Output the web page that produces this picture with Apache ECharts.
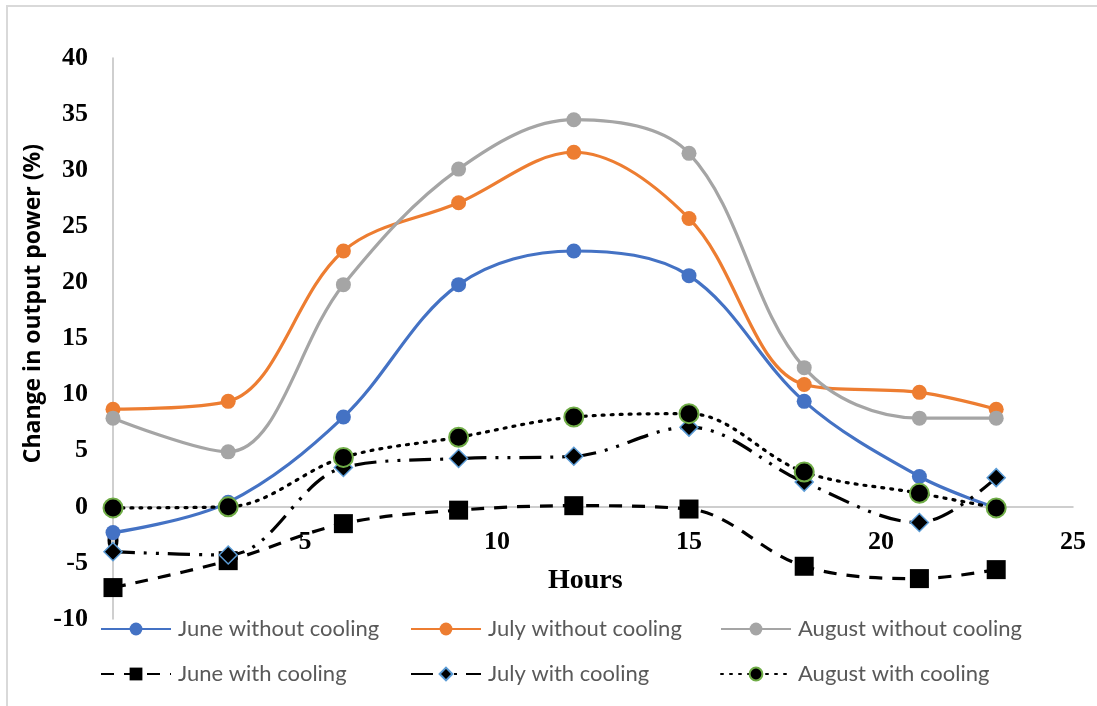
<!DOCTYPE html>
<html><head><meta charset="utf-8">
<script src="https://cdn.jsdelivr.net/npm/echarts@6/dist/echarts.min.js"></script>
<style>
html,body{margin:0;padding:0;background:#fff;}
#frame{position:absolute;left:6px;top:5px;width:1091px;height:701px;border-left:2px solid #d9d9d9;border-top:2px solid #d9d9d9;box-sizing:border-box;}
#main{position:absolute;left:0;top:0;width:1097px;height:706px;}
</style></head>
<body>
<div id="frame"></div>
<div id="main"></div>
<script>
const hours = [0, 3, 6, 9, 12, 15, 18, 21, 23];
const juneWithout = [-2.3, 0.4, 8.0, 19.8, 22.8, 20.6, 9.4, 2.7, -0.1];
const julyWithout = [8.7, 9.4, 22.8, 27.1, 31.6, 25.7, 10.9, 10.2, 8.7];
const augWithout = [7.9, 4.9, 19.8, 30.1, 34.5, 31.5, 12.4, 7.9, 7.9];
const juneWith = [-7.2, -4.8, -1.5, -0.3, 0.1, -0.2, -5.3, -6.4, -5.6];
const julyWith = [-4.0, -4.3, 3.5, 4.3, 4.5, 7.1, 2.2, -1.4, 2.6];
const augWith = [-0.1, 0.0, 4.4, 6.2, 8.0, 8.3, 3.1, 1.2, -0.1];
const names = ['June without cooling','July without cooling','August without cooling','June with cooling','July with cooling','August with cooling'];
const yTicks = [-10, 40, 5];
const xTicks = [0, 25, 5];

function pairs(ys){ return hours.map((h,i)=>[h, ys[i]]); }

const chart = echarts.init(document.getElementById('main'));
const serif = '"Liberation Serif", "Times New Roman", serif';
const legendFont = 'Lato, "Open Sans", sans-serif';

function leg(name, left, top){
  return {show:true, data:[name], left:left, top:top, padding:0, itemWidth:70, itemHeight:16, itemGap:0,
    textStyle:{fontFamily:legendFont, fontSize:22, color:'#595959', padding:[0,0,0,2]}};
}

chart.setOption({
  animation:false,
  backgroundColor:'transparent',
  grid:{left:113, right:24, top:58, bottom:87},
  xAxis:{type:'value', min:xTicks[0], max:xTicks[1], interval:xTicks[2], offset:-112,
    axisLine:{onZero:false, lineStyle:{color:'#bfbfbf', width:1.5}},
    axisTick:{show:false}, splitLine:{show:false},
    axisLabel:{fontFamily:serif, fontWeight:'bold', fontSize:26, color:'#000', margin:22}
  },
  yAxis:{type:'value', min:yTicks[0], max:yTicks[1], interval:yTicks[2],
    axisLine:{show:true, lineStyle:{color:'#bfbfbf', width:1.5}},
    axisTick:{show:false}, splitLine:{show:false},
    axisLabel:{fontFamily:serif, fontWeight:'bold', fontSize:26, color:'#000', margin:25}
  },
  legend:[
    leg(names[0], 100, 618), leg(names[1], 410, 618), leg(names[2], 720, 618),
    leg(names[3], 100, 663), leg(names[4], 410, 663), leg(names[5], 720, 663)
  ],
  graphic:[
    {type:'text', left:22, top:144, rotation:Math.PI/2,
      style:{text:'Change in output power (%)', font:'bold 23px "Open Sans", Lato, sans-serif', fill:'#000'}},
    {type:'text', left:548, top:567,
      style:{text:'Hours', font:'bold 28px "Liberation Serif", serif', fill:'#000'}}
  ],
  series:[
    {name:names[0], type:'line', smooth:0.35, data:pairs(juneWithout), symbol:'circle', symbolSize:15,
      lineStyle:{color:'#4472c4', width:3.2}, itemStyle:{color:'#4472c4'}},
    {name:names[1], type:'line', smooth:0.35, data:pairs(julyWithout), symbol:'circle', symbolSize:15,
      lineStyle:{color:'#ed7d31', width:3.2}, itemStyle:{color:'#ed7d31'}},
    {name:names[2], type:'line', smooth:0.35, data:pairs(augWithout), symbol:'circle', symbolSize:15,
      lineStyle:{color:'#a5a5a5', width:3.2}, itemStyle:{color:'#a5a5a5'}},
    {name:names[3], type:'line', smooth:0.35, data:pairs(juneWith), symbol:'rect', symbolSize:19,
      lineStyle:{color:'#000', width:3.2, type:[13,10]}, itemStyle:{color:'#000'}},
    {name:names[4], type:'line', smooth:0.35, data:pairs(julyWith), symbol:'diamond', symbolSize:18,
      lineStyle:{color:'#000', width:3.2, type:[22,9,3,9,3,9]}, itemStyle:{color:'#000', borderColor:'#5b9bd5', borderWidth:1.5}},
    {name:names[5], type:'line', smooth:0.35, data:pairs(augWith), symbol:'circle', symbolSize:19,
      lineStyle:{color:'#000', width:3.2, type:[2,7], cap:'round'}, itemStyle:{color:'#000', borderColor:'#70ad47', borderWidth:2}}
  ]
});
</script>
</body></html>
